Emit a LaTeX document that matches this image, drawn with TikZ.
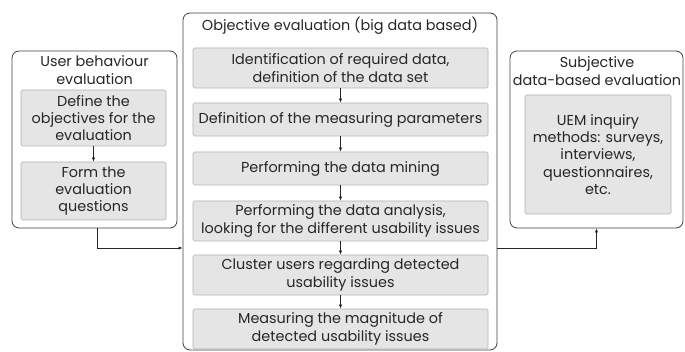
\documentclass[tikz,border=0pt]{standalone}
\usepackage{fontspec}
\setmainfont{Poppins}
\usetikzlibrary{arrows.meta}
\begin{document}
\begin{tikzpicture}[x=1pt,y=-1pt,
  txt/.style={font=\fontsize{14.4}{17.3}\selectfont, align=center, text=black!85},
  outer/.style={draw=black!75, rounded corners=7pt, line width=0.8pt, inner sep=0pt},
  stepbox/.style={txt, draw=black!30, fill=black!10, rounded corners=1.5pt, inner sep=0pt, line width=0.6pt},
  link/.style={-{Latex[length=4pt,width=3.2pt]}, line width=0.6pt, draw=black!85}]
\useasboundingbox (0,0) rectangle (685,352);

% left column: user behaviour evaluation
\node[outer, minimum width=165pt, minimum height=177pt] (lo) at (94.5,139.5) {};
\node[txt] (lt) at (94.5,70) {User behaviour\\evaluation};
\node[stepbox, minimum width=145pt, minimum height=56pt] (l1) at (93.5,118) {Define the\\objectives for the\\evaluation};
\node[stepbox, minimum width=145pt, minimum height=58pt] (l2) at (93.5,191) {Form the\\evaluation\\questions};

% middle column: objective evaluation
\node[outer, minimum width=314pt, minimum height=337pt] (mo) at (340,181.5) {};
\node[txt] (mt) at (340,26) {Objective evaluation (big data based)};
\node[stepbox, minimum width=295pt, minimum height=40pt] (m1) at (340.5,68) {Identification of required data,\\definition of the data set};
\node[stepbox, minimum width=295pt, minimum height=33pt] (m2) at (340.5,119.5) {Definition of the measuring parameters};
\node[stepbox, minimum width=295pt, minimum height=33pt] (m3) at (340.5,168.5) {Performing the data mining};
\node[stepbox, minimum width=295pt, minimum height=40pt] (m4) at (340.5,221) {Performing the data analysis,\\looking for the different usability issues};
\node[stepbox, minimum width=295pt, minimum height=40pt] (m5) at (340.5,275) {Cluster users regarding detected\\usability issues};
\node[stepbox, minimum width=295pt, minimum height=40pt] (m6) at (340.5,329) {Measuring the magnitude of\\detected usability issues};

% right column: subjective evaluation
\node[outer, minimum width=173pt, minimum height=177pt] (ro) at (596.5,139.5) {};
\node[txt] (rt) at (597,71) {Subjective\\data-based evaluation};
\node[stepbox, minimum width=146pt, minimum height=119pt] (r1) at (598,154.5) {UEM inquiry\\methods: surveys,\\interviews,\\questionnaires,\\etc.};

% step arrows
\draw[link] (l1) -- (l2);
\draw[link] (m1) -- (m2);
\draw[link] (m2) -- (m3);
\draw[link] (m3) -- (m4);
\draw[link] (m4) -- (m5);
\draw[link] (m5) -- (m6);

% links between columns
\coordinate (lbend) at (97,248);
\coordinate (rbend) at (598,248);
\draw[link] (lo.south -| lbend) |- (mo.west |- lbend);
\draw[link] (mo.east |- rbend) -| (ro.south);
\end{tikzpicture}
\end{document}
